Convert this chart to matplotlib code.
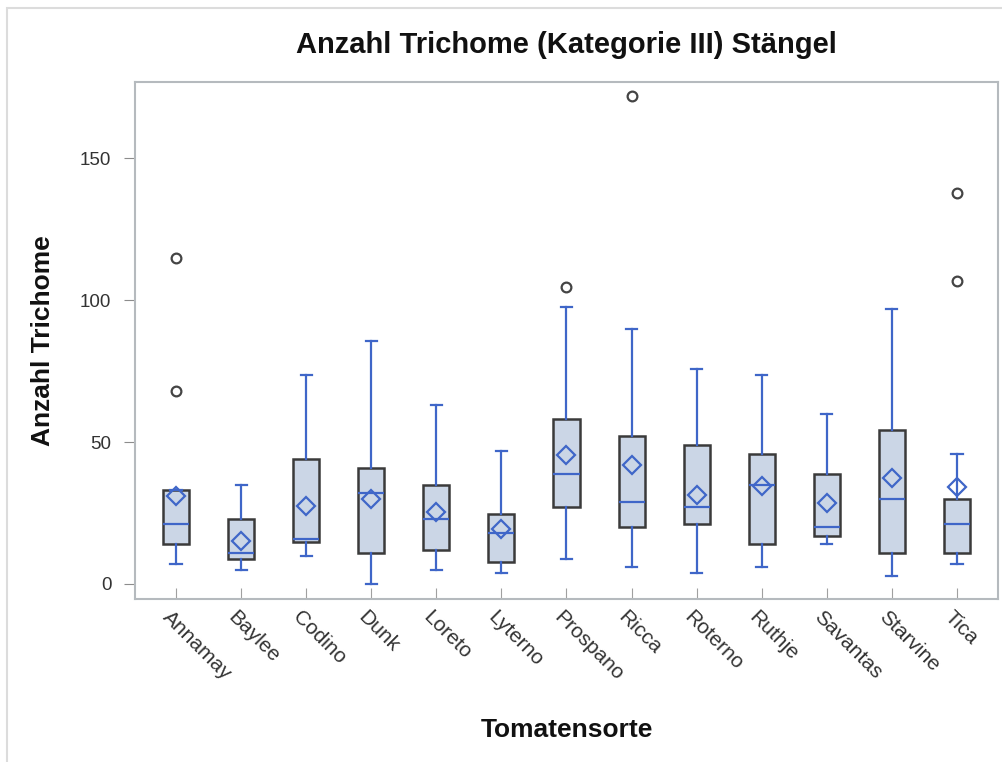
import numpy as np
import matplotlib
matplotlib.use("Agg")
import matplotlib.pyplot as plt
import matplotlib.transforms as mtransforms
from matplotlib.patches import Rectangle

plt.rcParams['font.family'] = ['Liberation Sans', 'DejaVu Sans']

sorten = ['Annamay', 'Baylee', 'Codino', 'Dunk', 'Loreto', 'Lyterno', 'Prospano',
          'Ricca', 'Roterno', 'Ruthje', 'Savantas', 'Starvine', 'Tica']
q1 = [13.9, 8.9, 14.8, 10.8, 12.0, 7.9, 27.1, 20.1, 21.1, 13.9, 16.9, 10.8, 10.8]
med = [21.1, 10.8, 15.8, 32.0, 23.0, 17.9, 38.9, 29.0, 27.0, 34.9, 20.1, 29.9, 21.1]
q3 = [33.0, 23.0, 44.0, 40.9, 34.9, 24.8, 58.1, 52.1, 49.0, 45.9, 38.9, 54.1, 29.9]
wlo = [6.9, 5.0, 9.8, 0.0, 5.0, 3.9, 8.9, 6.0, 3.9, 6.0, 13.9, 2.9, 6.9]
whi = [33.0, 34.9, 73.6, 85.7, 63.0, 46.8, 97.7, 89.7, 75.6, 73.6, 60.0, 96.7, 45.9]
mittel = [30.9, 15.2, 27.3, 30.1, 25.5, 19.2, 45.5, 42.0, 31.5, 34.5, 28.6, 37.4, 34.0]
ausreisser = [[114.8, 67.9], [], [], [], [], [], [104.7], [171.8], [], [], [], [], [137.7, 106.6]]

stats = []
for i, s in enumerate(sorten):
    stats.append(dict(label=s, q1=q1[i], med=med[i], q3=q3[i], whislo=wlo[i], whishi=whi[i],
                      mean=mittel[i], fliers=ausreisser[i]))

blau = '#3f66c8'
fig = plt.figure(figsize=(10.03, 7.62), dpi=100)
ax = fig.add_axes([0.1346, 0.2139, 0.8604, 0.6785])
ax.bxp(stats, positions=range(len(sorten)), widths=0.4, capwidths=0.17,
       showmeans=True, patch_artist=True,
       boxprops=dict(facecolor='#cbd6e6', edgecolor='#3a3a3a', linewidth=1.8),
       medianprops=dict(color=blau, linewidth=1.6),
       whiskerprops=dict(color=blau, linewidth=1.6),
       capprops=dict(color=blau, linewidth=1.6),
       meanprops=dict(marker='D', markerfacecolor='none', markeredgecolor=blau,
                      markersize=9, markeredgewidth=1.6),
       flierprops=dict(marker='o', markerfacecolor='none', markeredgecolor='#444444',
                       markersize=7, markeredgewidth=1.6))

ax.set_xlim(-0.63, 12.63)
ax.set_ylim(-5.3, 176.8)
ax.set_yticks([0, 50, 100, 150])
for sp in ax.spines.values():
    sp.set_color('#b5babe')
    sp.set_linewidth(1.5)
ax.tick_params(axis='y', direction='out', length=8, color='#8c8c8c', labelsize=13.5,
               labelcolor='#333333', pad=9)
ax.tick_params(axis='x', direction='in', length=8, color='#a0a0a0', labelsize=15,
               labelcolor='#333333', pad=11)
ax.set_xticks(range(len(sorten)))
ax.set_xticklabels(sorten, rotation=-45, ha='left', va='center', rotation_mode='anchor')
shift = mtransforms.ScaledTranslation(-10 / 100, 0, fig.dpi_scale_trans)
for lab in ax.get_xticklabels():
    lab.set_transform(lab.get_transform() + shift)

ax.set_title('Anzahl Trichome (Kategorie III) Stängel', fontsize=21, fontweight='bold',
             pad=21, color='#111111')
ax.set_ylabel('Anzahl Trichome', fontsize=19, fontweight='bold', labelpad=18, color='#111111')
ax.set_xlabel('Tomatensorte', fontsize=19, fontweight='bold', labelpad=24, color='#111111')

fig.add_artist(Rectangle((0.007, -0.1), 1.2, 1.0895, transform=fig.transFigure,
                         facecolor='none', edgecolor='#dcdcdc', linewidth=1.5))

fig.savefig('out.png', dpi=100)
